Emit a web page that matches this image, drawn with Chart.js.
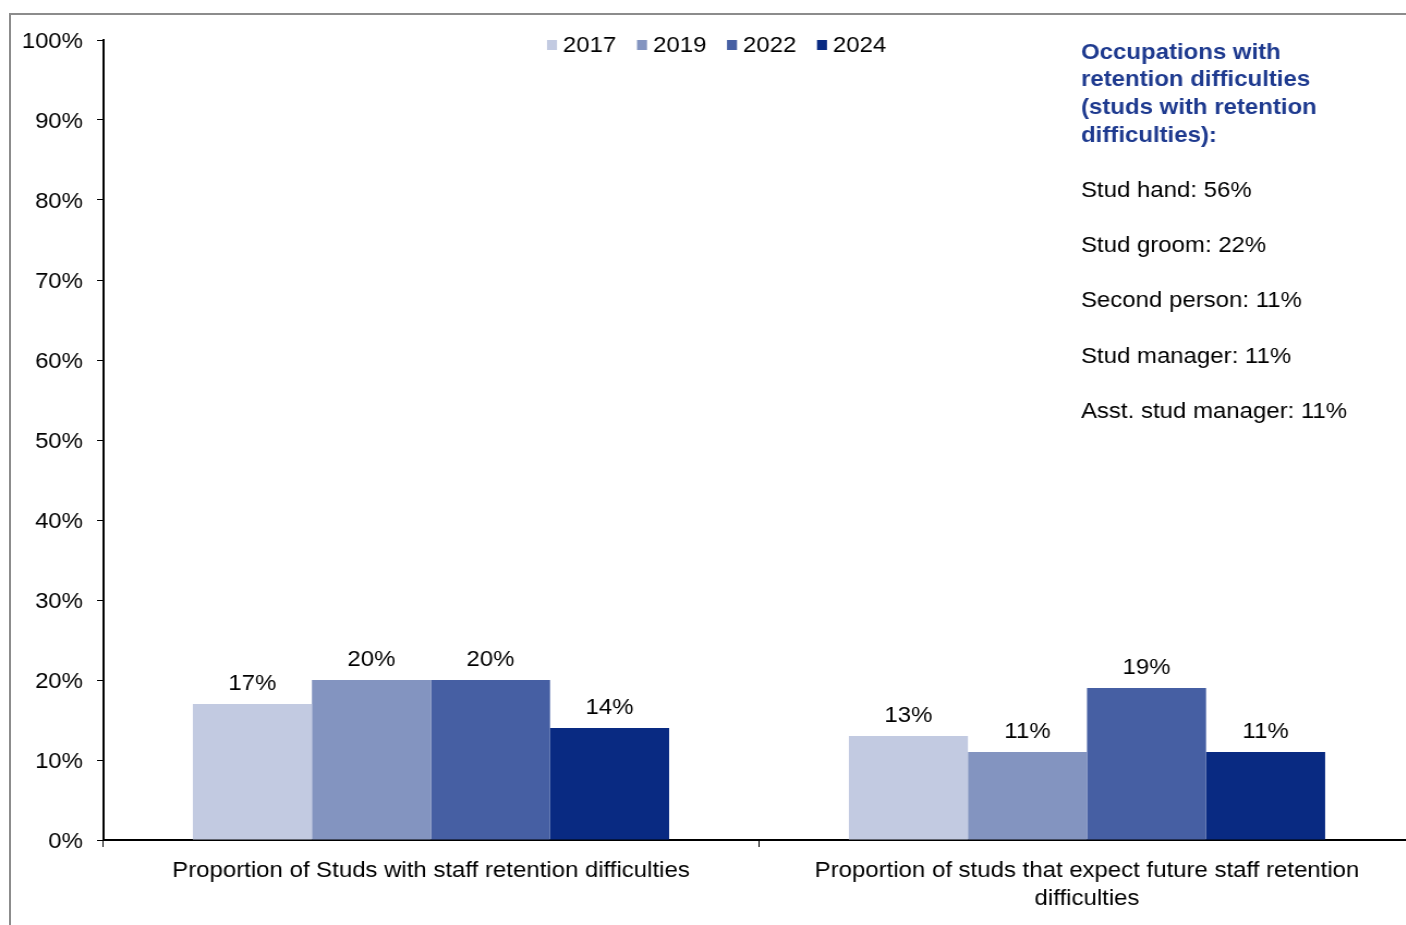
<!DOCTYPE html>
<html>
<head>
<meta charset="utf-8">
<script src="https://cdn.jsdelivr.net/npm/chart.js@4"></script>
<style>
  html, body { margin: 0; padding: 0; background: #fff; overflow: hidden; }
  #wrap { position: relative; width: 1406px; height: 925px; overflow: hidden; }
  #frame {
    position: absolute; left: 9px; top: 13px; width: 1420px; height: 940px;
    border-left: 2px solid #8c8c8c; border-top: 2px solid #8c8c8c;
  }
  /* the canvas is drawn narrower and widened by CSS, giving the wide lettering */
  #myChart { position: absolute; left: 0; top: 0; width: 1420px; height: 925px; }
</style>
</head>
<body>
<div id="wrap">
  <div id="frame"></div>
  <canvas id="myChart" width="1303" height="925" style="width:1420px;height:925px"></canvas>
</div>
<script>
// categories and series
const categories = [
  'Proportion of Studs with staff retention difficulties',
  ['Proportion of studs that expect future staff retention', 'difficulties']
]
const years = ['2017', '2019', '2022', '2024']
const values2017 = [17, 13]
const values2019 = [20, 11]
const values2022 = [20, 19]
const values2024 = [14, 11]
const colours = ['#C2CAE1', '#8394C0', '#465FA3', '#092A82']

// side note text
const noteTitle = ['Occupations with', 'retention difficulties', '(studs with retention', 'difficulties):']
const noteItems = ['Stud hand: 56%', 'Stud groom: 22%', 'Second person: 11%', 'Stud manager: 11%', 'Asst. stud manager: 11%']

const FONT = 'Arial, "Liberation Sans", sans-serif'
const SX = 1303 / 1420   // page px -> canvas px horizontally
Chart.defaults.font.family = FONT
Chart.defaults.font.size = 22
Chart.defaults.color = '#000'

const series = [values2017, values2019, values2022, values2024]

// value labels above each bar
const barLabels = {
  id: 'barLabels',
  afterDatasetsDraw(chart) {
    const ctx = chart.ctx
    ctx.save()
    ctx.font = '22px ' + FONT
    ctx.fillStyle = '#000'
    ctx.textAlign = 'center'
    ctx.textBaseline = 'alphabetic'
    chart.data.datasets.forEach((ds, i) => {
      chart.getDatasetMeta(i).data.forEach((bar, j) => {
        ctx.fillText(ds.data[j] + '%', bar.x, bar.y - 14)
      })
    })
    ctx.restore()
  }
}

// legend row and the occupations note
const extras = {
  id: 'extras',
  afterDraw(chart) {
    const ctx = chart.ctx
    ctx.save()
    ctx.font = '22px ' + FONT
    ctx.textBaseline = 'middle'
    ctx.textAlign = 'left'
    years.forEach((y, i) => {
      const x = (547 + i * 90) * SX
      ctx.fillStyle = colours[i]
      ctx.fillRect(x, 40, 10 * SX, 10)
      ctx.fillStyle = '#000'
      ctx.fillText(y, x + 16 * SX, 45.5)
    })

    const nx = 1081 * SX
    ctx.font = 'bold 22px ' + FONT
    ctx.fillStyle = '#1E3A8F'
    noteTitle.forEach((t, i) => ctx.fillText(t, nx, 52.5 + i * 27.7))
    ctx.font = '22px ' + FONT
    ctx.fillStyle = '#000'
    noteItems.forEach((t, i) => ctx.fillText(t, nx, 190.5 + i * 55.4))
    ctx.restore()
  }
}

const ctx = document.getElementById('myChart').getContext('2d')
const myChart = new Chart(ctx, {
  type: 'bar',
  data: {
    labels: categories,
    datasets: years.map((y, i) => ({
      label: y,
      data: series[i],
      backgroundColor: colours[i],
      borderWidth: 0,
      categoryPercentage: 0.726,
      barPercentage: 1
    }))
  },
  options: {
    responsive: false,
    devicePixelRatio: 1,
    animation: false,
    layout: { padding: { top: 40, right: 5 * SX, left: 0, bottom: 0 } },
    plugins: {
      legend: { display: false },
      tooltip: { enabled: false }
    },
    scales: {
      x: {
        grid: {
          offset: true,
          drawOnChartArea: false,
          tickLength: 7,
          color: '#000',
          tickColor: '#000'
        },
        border: { color: '#000', width: 2 },
        ticks: { padding: 10, maxRotation: 0, autoSkip: false, font: { lineHeight: 1.27 } },
        afterFit(scale) { scale.height = 85 }
      },
      y: {
        min: 0,
        max: 100,
        ticks: {
          stepSize: 10,
          padding: 14 * SX,
          labelOffset: 2,
          callback: v => v + '%'
        },
        grid: {
          drawOnChartArea: false,
          tickLength: 6 * SX,
          tickColor: '#000'
        },
        border: { color: '#000', width: 2 },
        afterFit(scale) { scale.width = 103 * SX }
      }
    }
  },
  plugins: [barLabels, extras]
})
</script>
</body>
</html>
